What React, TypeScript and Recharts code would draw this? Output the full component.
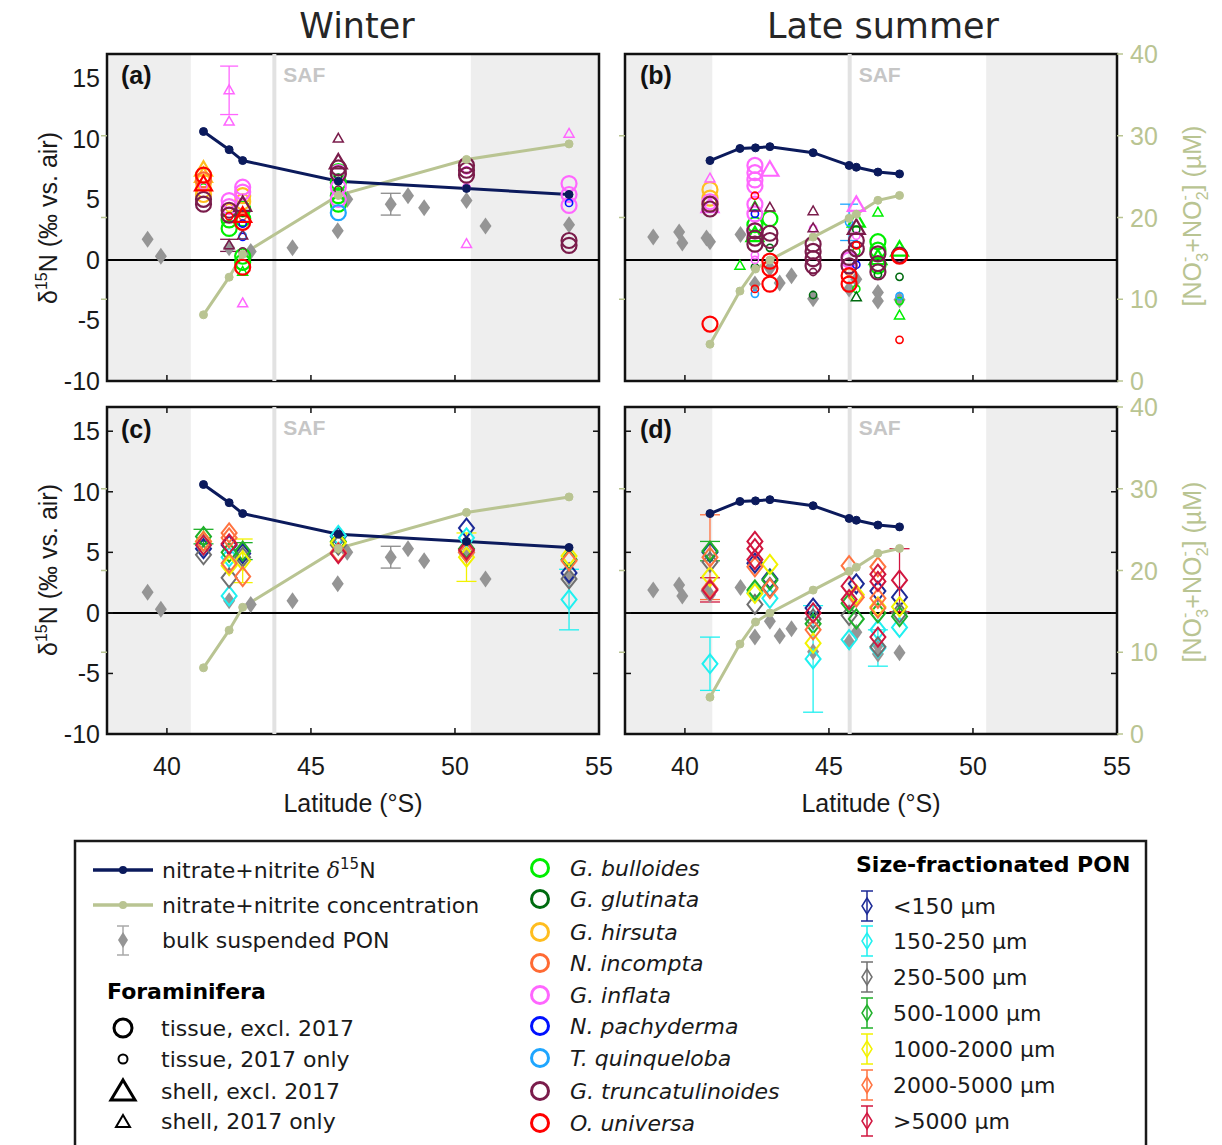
import React from 'react';
import { ComposedChart, XAxis, YAxis, Scatter, Line, ReferenceArea, ReferenceLine, ErrorBar } from 'recharts';

// marker kinds: T tissue excl. 2017, t tissue 2017 only, S shell excl. 2017, s shell 2017 only
type Kind = 'T' | 't' | 'S' | 's';
type Row = [number, number, Kind?, number?];
type SRow = [number, number, number?];

const latTicks = [40, 45, 50, 55];
const d15Ticks = [-10, -5, 0, 5, 10, 15];
const concTicks = [0, 10, 20, 30, 40];

// fronts: [edge of north shading, SAF, edge of south shading]
const frontsWinter = [40.83, 43.73, 50.55];
const frontsSummer = [40.95, 45.72, 50.46];

const nitrateWinter: Row[] = [[41.27, 10.6], [42.16, 9.1], [42.63, 8.2], [45.95, 6.5], [50.4, 5.9], [53.96, 5.4]];
const concWinter: Row[] = [[41.27, 8.1], [42.16, 12.7], [42.63, 15.5], [45.95, 22.7], [50.4, 27.1], [53.96, 29.0]];
const nitrateSummer: Row[] = [[40.87, 8.2], [41.91, 9.2], [42.45, 9.25], [42.95, 9.35], [44.45, 8.85], [45.7, 7.8], [45.95, 7.65], [46.7, 7.25], [47.45, 7.1]];
const concSummer: Row[] = [[40.87, 4.5], [41.91, 11.0], [42.45, 13.7], [42.95, 14.8], [44.45, 17.6], [45.7, 19.9], [45.95, 20.4], [46.7, 22.1], [47.45, 22.7]];

const bulkWinter: Row[] = [[39.33, 1.7], [39.79, 0.3], [42.16, 1.0], [42.91, 0.7], [44.36, 1.0], [45.93, 2.4], [46.26, 5.0], [47.77, 4.6, undefined, 0.9], [48.37, 5.3], [48.93, 4.3], [50.4, 4.9], [51.06, 2.8], [53.96, 2.9]];
const bulkSummer: Row[] = [[38.9, 1.9], [39.8, 2.3], [39.91, 1.4], [40.75, 1.8], [40.87, 1.5], [41.93, 2.1], [42.43, -2.0], [42.95, -0.7], [43.29, -1.9], [43.7, -1.3], [44.45, -3.2], [45.7, -2.4], [45.95, -1.6], [46.7, -2.7], [46.7, -3.4], [47.45, -3.3]];

const speciesNames = ['G. bulloides', 'G. glutinata', 'G. hirsuta', 'N. incompta', 'G. inflata', 'N. pachyderma', 'T. quinqueloba', 'G. truncatulinoides', 'O. universa'];
const speciesColors = ['#00ee00', '#006b10', '#ffbd1f', '#ff6a33', '#ff66ff', '#0010ff', '#1fa6ff', '#7a1c4b', '#ff0000'];

const bulloidesW: Row[] = [[42.16, 3.3, 'T'], [42.16, 2.6, 'T'], [42.63, 4.2, 'T'], [42.63, 3.4, 'T'], [42.63, 0.3, 'T'], [42.63, -0.2, 'T'], [42.63, -1.0, 's'], [45.95, 7.3, 'T'], [45.95, 6.4, 'T'], [45.95, 5.3, 'T'], [45.95, 4.6, 'T'], [41.27, 6.0, 't']];
const glutinataW: Row[] = [[42.63, 3.9, 't'], [45.95, 6.8, 't']];
const hirsutaW: Row[] = [[41.27, 7.4, 'S'], [41.27, 6.9, 'S'], [41.27, 6.4, 'T'], [41.27, 5.8, 'T'], [41.27, 5.4, 'T'], [42.63, 5.3, 'T'], [42.63, 4.8, 'T'], [42.16, 4.3, 't']];
const incomptaW: Row[] = [[41.27, 6.6, 'T'], [42.63, 3.6, 't']];
const inflataW: Row[] = [[42.16, 14.0, 's', 2.0], [42.16, 11.4, 's'], [42.16, 4.9, 'T'], [42.16, 4.4, 'T'], [42.63, 6.0, 'T'], [42.63, 5.6, 'T'], [42.63, -3.6, 's'], [41.27, 6.1, 't'], [45.95, 7.2, 'T'], [45.95, 6.0, 'T'], [45.95, 5.0, 'T'], [50.4, 6.0, 't'], [50.4, 7.4, 't'], [50.4, 1.3, 's'], [53.96, 10.4, 's'], [53.96, 6.3, 'T'], [53.96, 5.4, 'T'], [53.96, 4.5, 'T']];
const pachydermaW: Row[] = [[42.63, 1.9, 't'], [42.63, 3.0, 't'], [53.96, 4.7, 't']];
const quinquelobaW: Row[] = [[45.95, 3.9, 'T'], [42.63, 2.0, 't']];
const truncatulinoidesW: Row[] = [[41.27, 5.0, 'T'], [41.27, 4.6, 'T'], [42.16, 4.1, 'T'], [42.16, 3.7, 'T'], [42.63, 4.5, 'S'], [42.63, 2.0, 's'], [42.16, 1.2, 's', 0.5], [42.63, 0.7, 't'], [45.95, 10.0, 's'], [45.95, 8.0, 'S'], [45.95, 7.6, 'T'], [45.95, 7.1, 'T'], [45.95, 5.8, 't'], [50.4, 7.8, 'T'], [50.4, 7.4, 'T'], [50.4, 7.0, 'T'], [53.96, 1.6, 'T'], [53.96, 1.2, 'T']];
const universaW: Row[] = [[41.27, 7.0, 'T'], [41.27, 6.2, 'S'], [42.63, 3.1, 'T'], [42.63, 3.6, 'S'], [42.63, -0.6, 'T'], [42.16, 3.6, 't']];

const bulloidesS: Row[] = [[42.43, 4.4, 's'], [41.91, -0.5, 's'], [42.95, 3.4, 'T'], [42.43, 2.9, 'T'], [42.43, 2.0, 'S'], [45.95, 3.2, 'S'], [45.95, 0.7, 't'], [45.95, -2.4, 't'], [46.7, 3.9, 's'], [46.7, 1.5, 'T'], [46.7, 0.8, 'T'], [46.7, 0.1, 'S'], [46.7, -0.5, 'T'], [47.45, 0.8, 'S'], [47.45, -3.4, 't'], [47.45, -4.6, 's']];
const glutinataS: Row[] = [[42.43, -0.6, 't'], [42.95, 1.0, 't'], [44.45, -2.9, 't'], [45.95, 2.5, 't'], [45.95, -3.1, 's'], [46.7, -1.2, 't'], [47.45, -1.4, 't']];
const hirsutaS: Row[] = [[40.87, 5.8, 'T'], [40.87, 5.1, 'T'], [40.87, 4.6, 'T']];
const incomptaS: Row[] = [[45.7, -1.0, 't']];
const inflataS: Row[] = [[40.87, 6.7, 's'], [40.87, 4.8, 'T'], [40.87, 4.4, 'S'], [42.43, 7.8, 'T'], [42.43, 7.2, 'T'], [42.43, 6.6, 'T'], [42.43, 6.1, 'T'], [42.43, 4.6, 'T'], [42.43, 3.8, 'T'], [42.43, 2.4, 'T'], [42.43, 0.4, 't'], [42.43, 0.0, 't'], [42.95, 7.4, 'S'], [44.45, 2.6, 't'], [45.7, 0.0, 'T'], [45.95, 4.5, 'S'], [45.95, 2.0, 't']];
const pachydermaS: Row[] = [[42.43, 3.8, 't'], [45.95, -0.4, 't']];
const quinquelobaS: Row[] = [[42.43, -2.8, 't'], [45.7, 3.1, 't', 1.5], [47.45, -3.0, 't']];
const truncatulinoidesS: Row[] = [[40.87, 4.6, 'T'], [40.87, 4.2, 'T'], [42.43, 2.4, 'T'], [42.43, 1.8, 'T'], [42.43, 1.3, 'T'], [42.43, 4.3, 's'], [42.95, 2.2, 'T'], [42.95, 1.6, 'T'], [42.95, 4.3, 's'], [44.45, 4.0, 's'], [44.45, 2.6, 's'], [44.45, 1.3, 'T'], [44.45, 0.7, 'T'], [44.45, 0.1, 'T'], [44.45, -0.5, 'T'], [44.45, -1.0, 't'], [45.7, 0.2, 'T'], [45.7, -0.5, 'T'], [45.95, 2.6, 'S'], [45.95, 1.6, 'T'], [45.95, 0.9, 'T'], [46.7, 0.5, 'T'], [46.7, -0.3, 'T'], [46.7, -1.0, 'T'], [47.45, 0.4, 'T']];
const universaS: Row[] = [[40.87, -5.3, 'T'], [42.43, 5.3, 't'], [42.43, -2.4, 't'], [42.95, -0.1, 'T'], [42.95, -0.7, 'T'], [42.95, -2.0, 'T'], [45.7, -1.3, 'T'], [45.7, -2.0, 'T'], [45.95, 1.2, 't'], [47.45, 0.3, 'T'], [47.45, -6.6, 't']];

const foramWinter = [bulloidesW, glutinataW, hirsutaW, incomptaW, inflataW, pachydermaW, quinquelobaW, truncatulinoidesW, universaW];
const foramSummer = [bulloidesS, glutinataS, hirsutaS, incomptaS, inflataS, pachydermaS, quinquelobaS, truncatulinoidesS, universaS];

const sizeNames = ['<150 µm', '150-250 µm', '250-500 µm', '500-1000 µm', '1000-2000 µm', '2000-5000 µm', '>5000 µm'];
const sizeColors = ['#1c2a96', '#1ff0f0', '#707070', '#1fb02a', '#f2f200', '#ff7340', '#d1163f'];

const s150W: SRow[] = [[41.27, 5.3], [42.16, 5.6], [42.63, 4.9], [45.95, 6.3], [50.4, 7.0], [53.96, 3.3]];
const s250W: SRow[] = [[41.27, 5.6], [42.16, 4.6], [42.16, 1.4], [45.95, 6.4], [50.4, 6.2], [53.96, 1.1, 2.5]];
const s500W: SRow[] = [[41.27, 4.8], [42.16, 2.9], [42.63, 4.6], [45.95, 5.6], [50.4, 5.0], [53.96, 2.8]];
const s1000W: SRow[] = [[41.27, 6.3, 0.6], [42.16, 5.0], [42.63, 5.1, 0.7], [45.95, 5.9], [50.4, 5.3], [53.96, 4.4]];
const s2000W: SRow[] = [[41.27, 5.9], [42.16, 3.9], [42.63, 4.3, 1.8], [45.95, 5.8], [50.4, 4.6, 2.0], [53.96, 4.7]];
const s5000W: SRow[] = [[41.27, 5.9], [42.16, 6.6], [42.16, 6.2], [42.16, 4.1], [42.63, 3.0], [45.95, 5.0], [50.4, 5.0], [53.96, 4.3]];
const sBigW: SRow[] = [[41.27, 5.6], [42.16, 5.7], [45.95, 4.9], [50.4, 5.2]];

const s150S: SRow[] = [[40.87, 5.0], [42.43, 4.1], [42.95, 2.8], [44.45, 0.4], [45.95, 2.4], [46.7, 1.8], [47.45, 1.3]];
const s250S: SRow[] = [[40.87, -4.2, 2.2], [42.43, 1.7], [42.95, 1.2], [44.45, -3.8, 4.4], [45.7, -2.2], [46.7, -1.4], [46.7, -2.9, 1.5], [47.45, -1.2]];
const s500S: SRow[] = [[40.87, 4.2], [42.43, 0.7], [42.95, 2.1], [44.45, -0.5], [45.7, -0.2], [46.7, -2.8], [47.45, 0.0]];
const s1000S: SRow[] = [[40.87, 5.1, 0.8], [42.43, 1.9], [42.95, 2.7], [44.45, -0.9], [45.7, 0.8], [45.95, -0.5], [46.7, 0.0], [47.45, -0.3]];
const s2000S: SRow[] = [[40.87, 3.0], [42.43, 1.6], [42.95, 4.0], [44.45, -2.5], [45.95, 1.5], [46.7, 0.5], [47.45, 0.5]];
const s5000S: SRow[] = [[40.87, 4.6, 3.5], [40.87, 2.0], [42.43, 3.8], [42.95, 2.0], [44.45, -1.4], [45.7, 3.9], [45.95, 1.3], [46.7, 3.8], [46.7, 1.2], [46.7, 0.4]];
const sBigS: SRow[] = [[40.87, 1.9, 1.0], [42.43, 5.9], [42.43, 5.3], [42.43, 4.4], [44.45, 0.0], [45.7, 2.2], [45.7, 1.1], [46.7, 3.2], [46.7, 2.6], [46.7, -2.0], [47.45, 2.7, 2.6]];

const sizeWinter = [s150W, s250W, s500W, s1000W, s2000W, s5000W, sBigW];
const sizeSummer = [s150S, s250S, s500S, s1000S, s2000S, s5000S, sBigS];

const XMIN = 37.92;
const XMAX = 55;
const PW = 492;
const PH = 327;
const NAVY = '#0b1a5c';
const OLIVE = '#b9c492';
const ARIAL = '"Liberation Sans", Arial, sans-serif';
const DEJAVU = '"DejaVu Sans", sans-serif';

const pts = (rows: Row[]) => rows.map(([lat, v, k, err]) => ({ lat, v, k, err }));
const spts = (rows: SRow[]) => rows.map(([lat, v, err]) => ({ lat, v, err }));

function ForamMark({ cx, cy, k, c }: any) {
  if (cx == null || cy == null) return null;
  if (k === 'T') return <circle cx={cx} cy={cy} r={7.5} fill="none" stroke={c} strokeWidth={2.2} />;
  if (k === 't') return <circle cx={cx} cy={cy} r={3.6} fill="none" stroke={c} strokeWidth={1.6} />;
  if (k === 'S') return <path d={`M${cx},${cy - 9}L${cx + 8.5},${cy + 5.5}L${cx - 8.5},${cy + 5.5}Z`} fill="none" stroke={c} strokeWidth={2.2} />;
  return <path d={`M${cx},${cy - 5.5}L${cx + 5},${cy + 3.3}L${cx - 5},${cy + 3.3}Z`} fill="none" stroke={c} strokeWidth={1.5} />;
}

function Diamond({ cx, cy, c, w = 7.5, h = 9.5, sw = 2, fill = 'none' }: any) {
  if (cx == null || cy == null) return null;
  return <path d={`M${cx},${cy - h}L${cx + w},${cy}L${cx},${cy + h}L${cx - w},${cy}Z`} fill={fill} stroke={fill === 'none' ? c : 'none'} strokeWidth={sw} />;
}

function XTick({ x, y, payload, label, box }: any) {
  return (
    <g>
      <line x1={x} x2={x} y1={y} y2={y - 6} stroke="#111" strokeWidth={1.5} />
      {box && <line x1={x} x2={x} y1={y - PH} y2={y - PH + 6} stroke="#111" strokeWidth={1.5} />}
      {label && (
        <text x={x} y={y + 41} textAnchor="middle" fontSize={25} fontFamily={ARIAL} fill="#1a1a1a">
          {payload.value}
        </text>
      )}
    </g>
  );
}

function LTick({ x, y, payload, label, box }: any) {
  return (
    <g>
      {box && <line x1={x} x2={x + 6} y1={y} y2={y} stroke="#111" strokeWidth={1.5} />}
      {box && <line x1={x + PW} x2={x + PW - 6} y1={y} y2={y} stroke="#111" strokeWidth={1.5} />}
      {label && (
        <text x={x - 7} y={y + 9} textAnchor="end" fontSize={25} fontFamily={ARIAL} fill="#1a1a1a">
          {payload.value}
        </text>
      )}
    </g>
  );
}

function RTick({ x, y, payload, label }: any) {
  const v = payload.value;
  return (
    <g>
      {label && <line x1={x} x2={x + 6} y1={y} y2={y} stroke={OLIVE} strokeWidth={1.5} />}
      {v > 0 && v < 40 && <line x1={x - PW} x2={x - PW - 6} y1={y} y2={y} stroke={OLIVE} strokeWidth={1.5} />}
      {label && (
        <text x={x + 13} y={y + 9} textAnchor="start" fontSize={25} fontFamily={ARIAL} fill={OLIVE}>
          {v}
        </text>
      )}
    </g>
  );
}

function SafLabel(props: any) {
  const vb = props.viewBox;
  if (!vb) return null;
  return (
    <text x={vb.x + 9} y={vb.y + 28} fontSize={21} fontWeight="bold" fontFamily={ARIAL} fill="#c6c6c6">
      SAF
    </text>
  );
}

function Panel({ left, top, lw, rw, mt, h, fronts, nitrate, conc, bulk, foram, size, xLabels, lLabels, rLabels, box }: any) {
  return (
    <div style={{ position: 'absolute', left, top }}>
      <ComposedChart width={lw + PW + rw} height={h} margin={{ top: mt, right: 0, left: 0, bottom: h - mt - PH - 10 }}>
        <XAxis xAxisId={0} type="number" dataKey="lat" domain={[XMIN, XMAX]} ticks={latTicks} interval={0} allowDataOverflow height={10}
          axisLine={false} tickLine={false} tickSize={0} tickMargin={0} tick={(p: any) => <XTick {...p} label={xLabels} box={box} />} />
        <YAxis yAxisId="l" type="number" dataKey="v" domain={[-10, 17]} ticks={d15Ticks} interval={0} allowDataOverflow width={lw}
          axisLine={false} tickLine={false} tickSize={0} tickMargin={0} tick={(p: any) => <LTick {...p} label={lLabels} box={box} />} />
        <YAxis yAxisId="r" orientation="right" type="number" dataKey="v" domain={[0, 40]} ticks={concTicks} interval={0} allowDataOverflow width={rw}
          axisLine={false} tickLine={false} tickSize={0} tickMargin={0} tick={(p: any) => <RTick {...p} label={rLabels} />} />
        <ReferenceArea yAxisId="l" x1={XMIN} x2={fronts[0]} fill="#eeeeee" fillOpacity={1} stroke="none" />
        <ReferenceArea yAxisId="l" x1={fronts[2]} x2={XMAX} fill="#eeeeee" fillOpacity={1} stroke="none" />
        <ReferenceLine yAxisId="l" x={fronts[1]} stroke="#e2e2e2" strokeWidth={4} label={<SafLabel />} />
        <ReferenceLine yAxisId="l" y={0} stroke="#000" strokeWidth={2} />
        <Scatter yAxisId="l" data={pts(bulk)} isAnimationActive={false}
          shape={(p: any) => <Diamond cx={p.cx} cy={p.cy} w={6} h={8.5} fill="#959595" />}>
          <ErrorBar dataKey="err" direction="y" width={10} stroke="#8a8a8a" strokeWidth={1.3} />
        </Scatter>
        {foram && foram.map((rows: Row[], i: number) => (
          <Scatter key={speciesNames[i]} yAxisId="l" data={pts(rows)} isAnimationActive={false}
            shape={(p: any) => <ForamMark cx={p.cx} cy={p.cy} k={p.payload && p.payload.k} c={speciesColors[i]} />}>
            <ErrorBar dataKey="err" direction="y" width={9} stroke={speciesColors[i]} strokeWidth={1.3} />
          </Scatter>
        ))}
        {size && size.map((rows: SRow[], i: number) => (
          <Scatter key={sizeNames[i]} yAxisId="l" data={spts(rows)} isAnimationActive={false}
            shape={(p: any) => <Diamond cx={p.cx} cy={p.cy} c={sizeColors[i]} />}>
            <ErrorBar dataKey="err" direction="y" width={10} stroke={sizeColors[i]} strokeWidth={1.3} />
          </Scatter>
        ))}
        <Line yAxisId="r" type="linear" data={pts(conc)} dataKey="v" stroke={OLIVE} strokeWidth={3}
          dot={{ r: 4, fill: OLIVE, stroke: OLIVE, strokeWidth: 1 }} isAnimationActive={false} />
        <Line yAxisId="l" type="linear" data={pts(nitrate)} dataKey="v" stroke={NAVY} strokeWidth={3}
          dot={{ r: 4, fill: NAVY, stroke: NAVY, strokeWidth: 1 }} isAnimationActive={false} />
        <ReferenceArea yAxisId="l" x1={XMIN} x2={XMAX} y1={-10} y2={17} fill="none" fillOpacity={0} stroke="#111" strokeWidth={2.5} />
      </ComposedChart>
    </div>
  );
}

function YTitle({ cy }: { cy: number }) {
  return (
    <text transform={`translate(57,${cy}) rotate(-90)`} textAnchor="middle" fontSize={25} fontFamily={ARIAL} fill="#1a1a1a">
      δ<tspan fontSize={16} dy={-10}>15</tspan><tspan dy={10}>N (‰ vs. air)</tspan>
    </text>
  );
}

function RTitle({ cy }: { cy: number }) {
  return (
    <text transform={`translate(1201,${cy}) rotate(-90)`} textAnchor="middle" fontSize={25} fontFamily={ARIAL} fill={OLIVE}>
      [NO<tspan fontSize={16} dy={-11}>-</tspan><tspan fontSize={16} dx={-5} dy={18}>3</tspan>
      <tspan dy={-7}>+NO</tspan><tspan fontSize={16} dy={-11}>-</tspan><tspan fontSize={16} dx={-5} dy={18}>2</tspan>
      <tspan dy={-7}>] (µM)</tspan>
    </text>
  );
}

function LegendBox() {
  const col2Rows = [868, 899, 932, 963, 995, 1026, 1058, 1091, 1123];
  const col3Rows = [906, 941, 977, 1013, 1049, 1085, 1121];
  const t = { fontSize: 22, fontFamily: DEJAVU, fill: '#1a1a1a' };
  return (
    <g>
      <rect x={75} y={841} width={1071} height={340} fill="none" stroke="#1a1a1a" strokeWidth={2.5} />
      <line x1={93} x2={153} y1={870} y2={870} stroke={NAVY} strokeWidth={3.5} />
      <circle cx={123} cy={870} r={4} fill={NAVY} />
      <text x={162} y={878} {...t}>nitrate+nitrite <tspan fontFamily='"DejaVu Serif", serif' fontStyle="italic">δ</tspan><tspan fontSize={15} dy={-9}>15</tspan><tspan dy={9}>N</tspan></text>
      <line x1={93} x2={153} y1={905} y2={905} stroke={OLIVE} strokeWidth={3.5} />
      <circle cx={123} cy={905} r={4} fill={OLIVE} />
      <text x={162} y={913} {...t}>nitrate+nitrite concentration</text>
      <line x1={123} x2={123} y1={926} y2={955} stroke="#a8a8a8" strokeWidth={1.5} />
      <line x1={117} x2={129} y1={926} y2={926} stroke="#a8a8a8" strokeWidth={1.5} />
      <line x1={117} x2={129} y1={955} y2={955} stroke="#a8a8a8" strokeWidth={1.5} />
      <Diamond cx={123} cy={940} w={5} h={8} fill="#959595" />
      <text x={162} y={948} {...t}>bulk suspended PON</text>
      <text x={107} y={999} {...t} fontWeight="bold" fill="#000">Foraminifera</text>
      <circle cx={123} cy={1028} r={9} fill="none" stroke="#000" strokeWidth={3} />
      <text x={161} y={1036} {...t}>tissue, excl. 2017</text>
      <circle cx={123} cy={1059} r={4.5} fill="none" stroke="#000" strokeWidth={2} />
      <text x={161} y={1067} {...t}>tissue, 2017 only</text>
      <path d="M123,1080L135,1100L111,1100Z" fill="none" stroke="#000" strokeWidth={3} />
      <text x={161} y={1099} {...t}>shell, excl. 2017</text>
      <path d="M123,1115L130,1127L116,1127Z" fill="none" stroke="#000" strokeWidth={2} />
      <text x={161} y={1129} {...t}>shell, 2017 only</text>
      {speciesNames.map((n, i) => (
        <g key={n}>
          <circle cx={540} cy={col2Rows[i]} r={8.5} fill="none" stroke={speciesColors[i]} strokeWidth={3} />
          <text x={570} y={col2Rows[i] + 8} {...t} fontStyle="italic">{n}</text>
        </g>
      ))}
      <text x={856} y={872} {...t} fontWeight="bold" fill="#000">Size-fractionated PON</text>
      {sizeNames.map((n, i) => (
        <g key={n}>
          <line x1={867} x2={867} y1={col3Rows[i] - 15} y2={col3Rows[i] + 15} stroke={sizeColors[i]} strokeWidth={1.5} />
          <line x1={861} x2={873} y1={col3Rows[i] - 15} y2={col3Rows[i] - 15} stroke={sizeColors[i]} strokeWidth={1.5} />
          <line x1={861} x2={873} y1={col3Rows[i] + 15} y2={col3Rows[i] + 15} stroke={sizeColors[i]} strokeWidth={1.5} />
          <Diamond cx={867} cy={col3Rows[i]} c={sizeColors[i]} w={5} h={8} sw={1.5} />
          <text x={893} y={col3Rows[i] + 8} {...t}>{n}</text>
        </g>
      ))}
    </g>
  );
}

export default function App() {
  return (
    <div style={{ position: 'absolute', left: 0, top: 0, width: 1222, height: 1145, overflow: 'hidden', background: '#fff' }}>
      <Panel left={0} top={0} lw={107} rw={30} mt={54} h={400} fronts={frontsWinter} nitrate={nitrateWinter} conc={concWinter}
        bulk={bulkWinter} foram={foramWinter} xLabels={false} lLabels={true} rLabels={false} box={false} />
      <Panel left={0} top={380} lw={107} rw={30} mt={27} h={460} fronts={frontsWinter} nitrate={nitrateWinter} conc={concWinter}
        bulk={bulkWinter} size={sizeWinter} xLabels={true} lLabels={true} rLabels={false} box={true} />
      <Panel left={615} top={0} lw={10} rw={105} mt={54} h={400} fronts={frontsSummer} nitrate={nitrateSummer} conc={concSummer}
        bulk={bulkSummer} foram={foramSummer} xLabels={false} lLabels={false} rLabels={true} box={false} />
      <Panel left={615} top={380} lw={10} rw={105} mt={27} h={460} fronts={frontsSummer} nitrate={nitrateSummer} conc={concSummer}
        bulk={bulkSummer} size={sizeSummer} xLabels={true} lLabels={false} rLabels={true} box={true} />
      <svg width={1222} height={1145} style={{ position: 'absolute', left: 0, top: 0, pointerEvents: 'none' }}>
        <text x={357} y={38} textAnchor="middle" fontSize={35} fontFamily={DEJAVU} fill="#262626">Winter</text>
        <text x={883} y={38} textAnchor="middle" fontSize={35} fontFamily={DEJAVU} fill="#262626">Late summer</text>
        <text x={121} y={84} fontSize={25} fontWeight="bold" fontFamily={ARIAL} fill="#111">(a)</text>
        <text x={640} y={84} fontSize={25} fontWeight="bold" fontFamily={ARIAL} fill="#111">(b)</text>
        <text x={121} y={438} fontSize={25} fontWeight="bold" fontFamily={ARIAL} fill="#111">(c)</text>
        <text x={640} y={438} fontSize={25} fontWeight="bold" fontFamily={ARIAL} fill="#111">(d)</text>
        <YTitle cy={218} />
        <YTitle cy={570} />
        <RTitle cy={216} />
        <RTitle cy={572} />
        <text x={353} y={812} textAnchor="middle" fontSize={25} fontFamily={ARIAL} fill="#1a1a1a">Latitude (°S)</text>
        <text x={871} y={812} textAnchor="middle" fontSize={25} fontFamily={ARIAL} fill="#1a1a1a">Latitude (°S)</text>
        <LegendBox />
      </svg>
    </div>
  );
}
